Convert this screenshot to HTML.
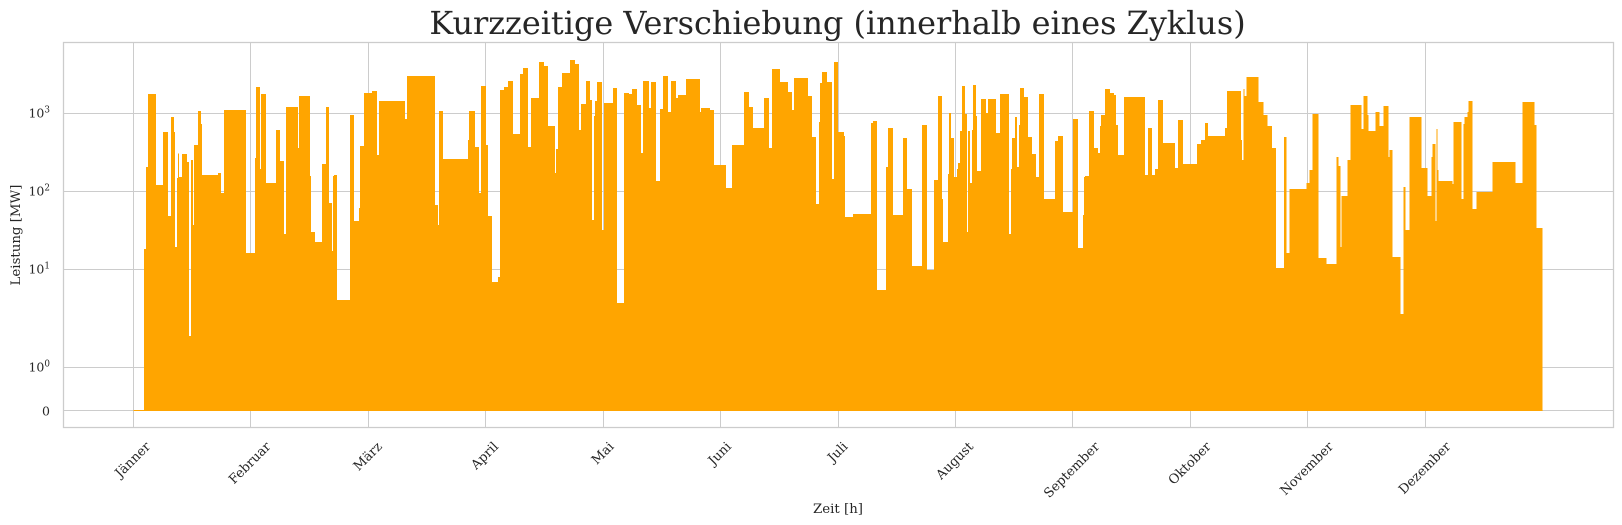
<!DOCTYPE html>
<html lang="de">
<head>
<meta charset="utf-8">
<title>Kurzzeitige Verschiebung</title>
<style>
html,body{margin:0;padding:0;background:#fff;}
svg{display:block;}
text{font-family:"DejaVu Serif","Liberation Serif",serif;fill:#262626;}
</style>
</head>
<body>
<svg id="chart" xmlns="http://www.w3.org/2000/svg" width="1622" height="525" viewBox="0 0 1622 525">
  <rect x="0" y="0" width="1622" height="525" fill="#ffffff"/>
  <g id="grid"></g>
  <path id="area" fill="#ffa500" stroke="none" shape-rendering="crispEdges"/>
  <line id="baseline" stroke="#ffa500" stroke-width="1"/>
  <rect x="63.5" y="42.5" width="1550" height="385" fill="none" stroke="#cccccc" stroke-width="1.25"/>
  <g id="yticks"></g>
  <g id="xticks"></g>
  <text x="837.5" y="34" font-size="31.9" text-anchor="middle">Kurzzeitige Verschiebung (innerhalb eines Zyklus)</text>
  <text x="838" y="513" font-size="13.33" text-anchor="middle">Zeit [h]</text>
  <text x="20" y="235" font-size="13.33" text-anchor="middle" transform="rotate(-90 20 235)">Leistung [MW]</text>
</svg>
<script>
const monthLabels = ["Jänner","Februar","März","April","Mai","Juni","Juli","August","September","Oktober","November","Dezember"];
const monthTickHours = [0,730,1460,2190,2920,3650,4380,5110,5840,6570,7300,8030];
const yTickValues = [0,1,10,100,1000];
const yTickExponents = ["","0","1","2","3"];
const stepHours = [
66.3,12.4,12.4,49.7,43.5,31.1,18.6,18.6,6.2,12.4,6.2,6.2,18.6,31.1,12.4,12.4,12.4,6.2,24.9,18.6,6.2,99.4,18.6,18.6,136.7,55.9,6.2,24.9,6.2,31.1,62.2,24.9,24.9,12.4,74.6,6.2,68.4,6.2,24.9,43.5,24.9,18.6,18.6,6.2,6.2,18.6,80.8,24.9,31.1,6.2,24.9,49.7,31.1,12.4,161.6,12.4,174,
18.6,6.2,24.9,155.4,6.2,37.3,24.9,12.4,31.1,12.4,24.9,37.3,12.4,24.9,24.9,31.1,43.5,18.6,31.1,18.6,49.7,31.1,24.9,43.5,6.2,12.4,24.9,49.7,31.1,24.9,12.4,31.1,24.9,12.4,12.4,6.2,12.4,31.1,12.4,55.9,24.9,43.5,31.1,18.6,31.1,24.9,12.4,37.3,12.4,31.1,24.9,18.6,31.1,18.6,31.1,12.4,49.7,87,6.2,55.9,24.9,74.6,37.3,74.6,31.1,24.9,68.4,31.1,18.6,49.7,
49.7,24.9,12.4,87,24.9,24.9,18.6,6.2,12.4,31.1,31.1,12.4,24.9,37.3,6.2,49.7,111.9,12.4,24.9,55.9,12.4,31.1,62.2,24.9,31.1,62.2,31.1,43.5,24.9,24.9,6.2,31.1,6.2,12.4,18.6,18.6,6.2,12.4,12.4,18.6,12.4,6.2,12.4,12.4,6.2,18.6,6.2,24.9,31.1,12.4,49.7,24.9,55.9,12.4,6.2,18.6,12.4,12.4,6.2,24.9,24.9,24.9,24.9,18.6,31.1,68.4,18.6,31.1,62.2,31.1,31.1,6.2,6.2,24.9,31.1,24.9,12.4,6.2,24.9,31.1,24.9,12.4,12.4,37.3,130.5,
18.6,24.9,18.6,18.6,31.1,74.6,18.6,31.1,87,24.9,24.9,18.6,105.7,12.4,87,6.2,12.4,6.2,12.4,74.6,31.1,24.9,24.9,24.9,49.7,18.6,18.6,105.7,18.6,18.6,37.3,49.7,62.2,12.4,12.4,6.2,37.3,18.6,68.4,12.4,24.9,6.2,43.5,24.9,24.9,31.1,6.2,18.6,49.7,18.6,12.4,24.9,74.6,37.3,24.9,6.2,18.6,6.2,6.2,6.2,87,6.2,49.7,12.4,6.2,18.6,6.2,24.9,24.9,99.4,142.9,43.5,74.6,12.4,37.3
];
const stepValues = [
0,18.2,205,1770,121,577,48.3,897,577,19.3,148,307,153,301,238,1.72,252,37,393,1070,729,162,172,95.2,1100,16.2,267,2180,193,1770,128,611,245,28.4,1210,360,1670,157,30.1,22.4,224,1210,70.8,17.2,157,162,4.05,952,41.7,61.1,381,1820,1930,292,1440,846,3010,
66.8,37,1070,260,455,1070,370,95.2,2240,393,48.3,6.88,7.97,1990,2180,2600,543,3190,3810,370,1570,4550,4040,688,172,349,2180,3290,4830,4290,611,1320,2600,1480,42.9,924,1440,2520,31.9,1360,2110,3.7,1820,1770,2050,1280,310,2600,1170,2520,136,1140,3010,1040,2600,1570,1720,2750,1040,1170,1100,218,110,393,1880,1210,649,1570,360,3700,
2520,1880,1100,2840,1670,497,68.8,774,2450,3390,2520,144,4550,577,512,46.9,51.2,752,798,5.43,205,649,49.7,483,107,11,708,9.8,140,1670,79.8,22.4,167,1010,483,153,193,231,594,2240,980,30.1,594,128,611,2310,924,182,1530,1010,1530,560,1770,28.4,193,483,897,205,708,2110,1620,497,301,153,1770,79.8,442,512,54.3,846,18.8,49.7,153,157,1070,360,310,688,952,2050,1820,1720,708,292,1620,
162,649,162,193,1480,417,199,822,224,405,455,752,512,649,1930,455,252,2050,1670,2920,1400,952,688,360,10.4,497,16.2,107,128,188,980,14,11.7,275,211,19.3,87.1,252,1280,630,1670,952,594,1040,688,1240,275,339,14.4,2.68,114,31.9,897,199,87.1,275,405,41.7,630,188,136,124,774,79.8,729,897,1040,1440,59.4,98,238,128,1400,708,33.9
];

const plot = {left:63, right:1613, top:42.5, bottom:427.5};
const hourMin = -438;
const hourMax = 9198;
const zeroY = 410.5;
const decadePx = 78;
const linThresh = 2;
const linScale = 1 / (1 - 1 / 10);
const SVG_NS = "http://www.w3.org/2000/svg";

function xScale(hour) {
  return plot.left + (hour - hourMin) / (hourMax - hourMin) * (plot.right - plot.left);
}
function yScale(value) {
  const t = value <= linThresh
    ? value / linThresh * linScale
    : linScale + Math.log10(value / linThresh);
  return zeroY - t * decadePx;
}
function make(tag, attrs, parent) {
  const el = document.createElementNS(SVG_NS, tag);
  Object.keys(attrs).forEach(function (k) { el.setAttribute(k, attrs[k]); });
  parent.appendChild(el);
  return el;
}

const grid = document.getElementById("grid");
const yticks = document.getElementById("yticks");
const xticks = document.getElementById("xticks");

yTickValues.forEach(function (v, i) {
  const y = Math.round(yScale(v) - 0.5) + 0.5;
  const line = make("line", {x1: 63.5, x2: 1613.5, y1: y, y2: y, stroke: "#cccccc", "stroke-width": 1.1, "shape-rendering": "crispEdges"}, grid);
  
  
  const label = make("text", {x: 50, y: v === 0 ? y + 5 : y + 4, "font-size": 12.5, "text-anchor": "end"}, yticks);
  
  
  if (yTickExponents[i] === "") {
    label.textContent = String(v);
  } else {
    const base = make("tspan", {}, label);
    base.textContent = "10";
    const sup = make("tspan", {dy: -5, "font-size": 8.8}, label);
    sup.textContent = yTickExponents[i];
  }
});

monthLabels.forEach(function (name, i) {
  const x = Math.round(xScale(monthTickHours[i]) - 0.5) + 0.5;
  const line = make("line", {x1: x, x2: x, y1: plot.top, y2: plot.bottom, stroke: "#cccccc", "stroke-width": 1.1, "shape-rendering": "crispEdges"}, grid);
  
  
  const label = make("text", {"font-size": 13, "text-anchor": "middle"}, xticks);
  
  
  label.textContent = name;
  const w = label.getComputedTextLength();
  const half = (w + 13) * Math.SQRT1_2 / 2;
  const cy = 439.5 + half;
  const cx = x - 1;
  label.setAttribute("x", cx);
  label.setAttribute("y", cy + 4.5);
  label.setAttribute("transform", "rotate(-45 " + cx + " " + cy + ")");
});

let hour = 0;
let d = "M" + xScale(0).toFixed(2) + " " + zeroY;
stepValues.forEach(function (v, i) {
  const y = yScale(v).toFixed(2);
  d += "L" + xScale(hour).toFixed(2) + " " + y;
  hour += stepHours[i];
  d += "L" + xScale(hour).toFixed(2) + " " + y;
});
d += "L" + xScale(hour).toFixed(2) + " " + zeroY + "Z";
document.getElementById("area").setAttribute("d", d);
const baseline = document.getElementById("baseline");
baseline.setAttribute("x1", xScale(0));
baseline.setAttribute("x2", xScale(hour));
baseline.setAttribute("y1", zeroY);
baseline.setAttribute("y2", zeroY);
</script>
</body>
</html>
